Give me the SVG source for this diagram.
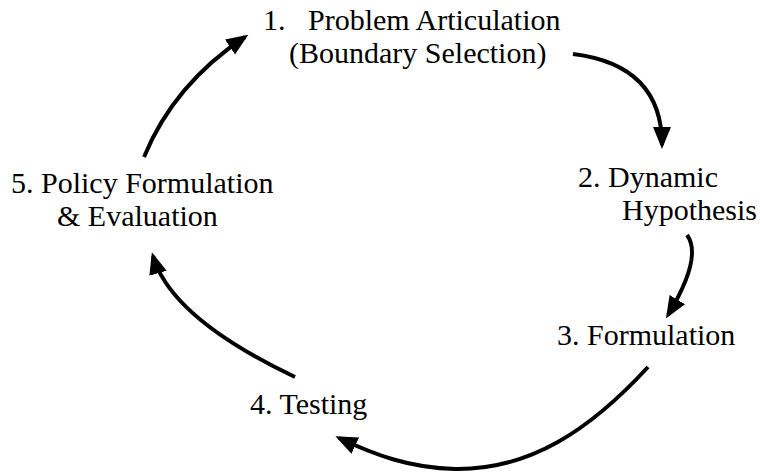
<svg xmlns="http://www.w3.org/2000/svg" width="760" height="473" viewBox="0 0 760 473">
<defs>
<marker id="ah" markerUnits="userSpaceOnUse" markerWidth="24" markerHeight="20" refX="18" refY="9" orient="auto">
<path d="M0,0 L22,9 L0,18 z" fill="#000"/>
</marker>
</defs>
<rect width="760" height="473" fill="#fff"/>
<g id="connectors" fill="none" stroke="#000" stroke-width="4" marker-end="url(#ah)">
<path d="M144,157 Q174,84 245,37"/>
<path d="M573,54 Q662,65 662,145"/>
<path d="M687,235 Q703,257 668,315"/>
<path d="M648,367 C590,430 530,470 455,469 C410,468 375,455 339,438"/>
<path d="M295,377 Q171,318 153,256"/>
</g>
<g id="n1"><text x="263" y="30" style="font-family:'Liberation Serif',serif;font-size:30px;white-space:pre">1.   Problem Articulation</text><text x="289" y="63" style="font-family:'Liberation Serif',serif;font-size:30px">(Boundary Selection)</text></g>
<g id="n2"><text x="578" y="187" style="font-family:'Liberation Serif',serif;font-size:30px">2. Dynamic</text><text x="622" y="220" style="font-family:'Liberation Serif',serif;font-size:30px">Hypothesis</text></g>
<g id="n3"><text x="557" y="345" style="font-family:'Liberation Serif',serif;font-size:30px">3. Formulation</text></g>
<g id="n4"><text x="250" y="414" style="font-family:'Liberation Serif',serif;font-size:30px">4. Testing</text></g>
<g id="n5"><text x="11" y="193" style="font-family:'Liberation Serif',serif;font-size:30px">5. Policy Formulation</text><text x="57" y="226" style="font-family:'Liberation Serif',serif;font-size:30px">&amp; Evaluation</text></g>
</svg>
